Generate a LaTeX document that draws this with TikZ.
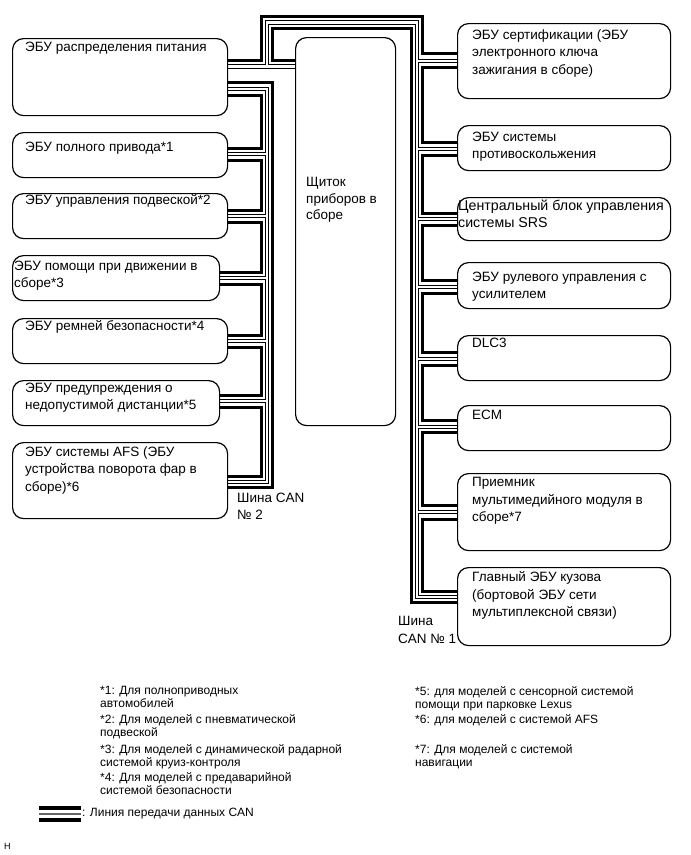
\documentclass[tikz,border=0pt]{standalone}
\usepackage{fontspec}
\setmainfont{Liberation Sans}
\usetikzlibrary{backgrounds}

\tikzset{
    ecu/.style={draw, rounded corners=11pt, line width=1.2pt, anchor=north west, inner sep=0pt},
    ecutext/.style={anchor=north west, align=left, inner sep=0pt, font=\fontsize{13.5}{17.5}\selectfont},
    notetext/.style={anchor=north west, align=left, inner sep=0pt, font=\fontsize{12}{13.5}\selectfont},
    canwire/.style={line width=3pt},
    canpair/.style={double, line width=0.9pt, double distance=2.6pt},
}

\begin{document}
\begin{tikzpicture}[x=1pt,y=-1pt]
    \useasboundingbox (0,0) rectangle (691,855);

    % left column
    \node [ecu, minimum width=215pt, minimum height=77pt] (L1) at (12,38) {};
    \node [ecu, minimum width=215pt, minimum height=45pt] (L2) at (12,132) {};
    \node [ecu, minimum width=215pt, minimum height=45pt] (L3) at (12,193) {};
    \node [ecu, minimum width=207pt, minimum height=45pt] (L4) at (12,255) {};
    \node [ecu, minimum width=215pt, minimum height=45pt] (L5) at (12,318) {};
    \node [ecu, minimum width=207pt, minimum height=45pt] (L6) at (12,380) {};
    \node [ecu, minimum width=215pt, minimum height=76pt] (L7) at (12,442) {};

    % instrument cluster
    \node [ecu, minimum width=100pt, minimum height=388pt] (inst) at (295,37) {};

    % right column
    \node [ecu, minimum width=213pt, minimum height=75pt] (R1) at (457,23) {};
    \node [ecu, minimum width=213pt, minimum height=45pt] (R2) at (457,125) {};
    \node [ecu, minimum width=213pt, minimum height=43pt] (R3) at (457,197) {};
    \node [ecu, minimum width=213pt, minimum height=46pt] (R4) at (457,262) {};
    \node [ecu, minimum width=213pt, minimum height=45pt] (R5) at (457,335) {};
    \node [ecu, minimum width=213pt, minimum height=45pt] (R6) at (457,405) {};
    \node [ecu, minimum width=213pt, minimum height=77pt] (R7) at (457,473) {};
    \node [ecu, minimum width=213pt, minimum height=78pt] (R8) at (457,567) {};

    \node [ecutext] (tL1) at (25,41.5) {ЭБУ распределения питания};
    \node [ecutext] (tL2) at (25,141.5) {ЭБУ полного привода*1};
    \node [ecutext] (tL3) at (25,194.5) {ЭБУ управления подвеской*2};
    \node [ecutext] (tL4) at (14,260.5) {ЭБУ помощи при движении в\\сборе*3};
    \node [ecutext] (tL5) at (25,320.5) {ЭБУ ремней безопасности*4};
    \node [ecutext] (tL6) at (25,382.5) {ЭБУ предупреждения о\\недопустимой дистанции*5};
    \node [ecutext] (tL7) at (25,446.5) {ЭБУ системы AFS (ЭБУ\\устройства поворота фар в\\сборе)*6};
    \node [ecutext, font=\fontsize{13.5}{16.5}\selectfont] (tinst) at (306,177.5) {Щиток\\приборов в\\сборе};
    \node [ecutext] (tR1) at (472,29.5) {ЭБУ сертификации (ЭБУ\\электронного ключа\\зажигания в сборе)};
    \node [ecutext] (tR2) at (472,131.5) {ЭБУ системы\\противоскольжения};
    \node [ecutext, font=\fontsize{14.2}{17.5}\selectfont] (tR3) at (458,199.5) {Центральный блок управления\\системы SRS};
    \node [ecutext] (tR4) at (472,271.5) {ЭБУ рулевого управления с\\усилителем};
    \node [ecutext] (tR5) at (472,337.5) {DLC3};
    \node [ecutext] (tR6) at (472,409.5) {ECM};
    \node [ecutext] (tR7) at (472,477.5) {Приемник\\мультимедийного модуля в\\сборе*7};
    \node [ecutext] (tR8) at (472,571.5) {Главный ЭБУ кузова\\(бортовой ЭБУ сети\\мультиплексной связи)};

    \node [ecutext] (bus2) at (237,492.5) {Шина CAN\\№ 2};
    \node [ecutext] (bus1) at (398,616.5) {Шина\\CAN № 1};

    \begin{pgfonlayer}{background}
    % thick wire, daisy chain
    \draw [canwire] (L1.east |- 0,60) -| (261.5,16) -| (422.5,53) -- (R1.west |- 0,53);
    \draw [canwire] (L1.east |- 0,95) -| (261.5,148) -- (L2.east |- 0,148);
    \draw [canwire] (L2.east |- 0,160) -| (261.5,210) -- (L3.east |- 0,210);
    \draw [canwire] (L3.east |- 0,222) -| (261.5,272) -- (L4.east |- 0,272);
    \draw [canwire] (L4.east |- 0,284) -| (261.5,335) -- (L5.east |- 0,335);
    \draw [canwire] (L5.east |- 0,347) -| (261.5,395) -- (L6.east |- 0,395);
    \draw [canwire] (L6.east |- 0,407) -| (261.5,476) -- (L7.east |- 0,476);
    \draw [canwire] (R1.west |- 0,67) -| (422.5,142) -- (R2.west |- 0,142);
    \draw [canwire] (R2.west |- 0,155) -| (422.5,213) -- (R3.west |- 0,213);
    \draw [canwire] (R3.west |- 0,225) -| (422.5,280) -- (R4.west |- 0,280);
    \draw [canwire] (R4.west |- 0,293) -| (422.5,352) -- (R5.west |- 0,352);
    \draw [canwire] (R5.west |- 0,365) -| (422.5,420) -- (R6.west |- 0,420);
    \draw [canwire] (R6.west |- 0,432) -| (422.5,505) -- (R7.west |- 0,505);
    \draw [canwire] (R7.west |- 0,519) -| (422.5,591) -- (R8.west |- 0,591);

    % thick wire, trunk
    \draw [canwire] (inst.west |- 0,60) -| (272.5,28.5) -| (411.5,602) -- (R8.west |- 0,602);
    \draw [canwire] (L1.east |- 0,82) -| (272.5,487) -- (L7.east |- 0,487);

    % double wire
    \draw [canpair]
        (L1.east |- 0,66.5) -- (inst.west |- 0,66.5)
        (267,66.5) |- (417,22.5) -- (417,597) -- (R8.west |- 0,597)
        (417,61) -- (R1.west |- 0,61)
        (417,149) -- (R2.west |- 0,149)
        (417,219) -- (R3.west |- 0,219)
        (417,287) -- (R4.west |- 0,287)
        (417,359) -- (R5.west |- 0,359)
        (417,427) -- (R6.west |- 0,427)
        (417,512) -- (R7.west |- 0,512)
        (L1.east |- 0,89) -| (267,482) -- (L7.east |- 0,482)
        (L2.east |- 0,154) -- (267,154)
        (L3.east |- 0,216) -- (267,216)
        (L4.east |- 0,278) -- (267,278)
        (L5.east |- 0,341) -- (267,341)
        (L6.east |- 0,401) -- (267,401);
    \end{pgfonlayer}

    % footnotes
    \node [notetext] (n1) at (100,686) {*1: Для полноприводных\\автомобилей};
    \node [notetext] (n2) at (100,714) {*2: Для моделей с пневматической\\подвеской};
    \node [notetext] (n3) at (100,744) {*3: Для моделей с динамической радарной\\системой круиз-контроля};
    \node [notetext] (n4) at (100,772) {*4: Для моделей с предаварийной\\системой безопасности};
    \node [notetext] (n5) at (415,686) {*5: для моделей с сенсорной системой\\помощи при парковке Lexus};
    \node [notetext] (n6) at (415,714) {*6: для моделей с системой AFS};
    \node [notetext] (n7) at (415,744) {*7: Для моделей с системой\\навигации};

    % legend
    \draw [line width=3.5pt] (39,808) -- (81,808);
    \draw [line width=1.2pt, black!60] (39,814) -- (81,814);
    \draw [line width=3.5pt] (39,820) -- (81,820);
    \node [notetext] (leg) at (82,808) {: Линия передачи данных CAN};

    \node [notetext, font=\fontsize{9}{10}\selectfont] (fig) at (4,843) {H};
\end{tikzpicture}
\end{document}
